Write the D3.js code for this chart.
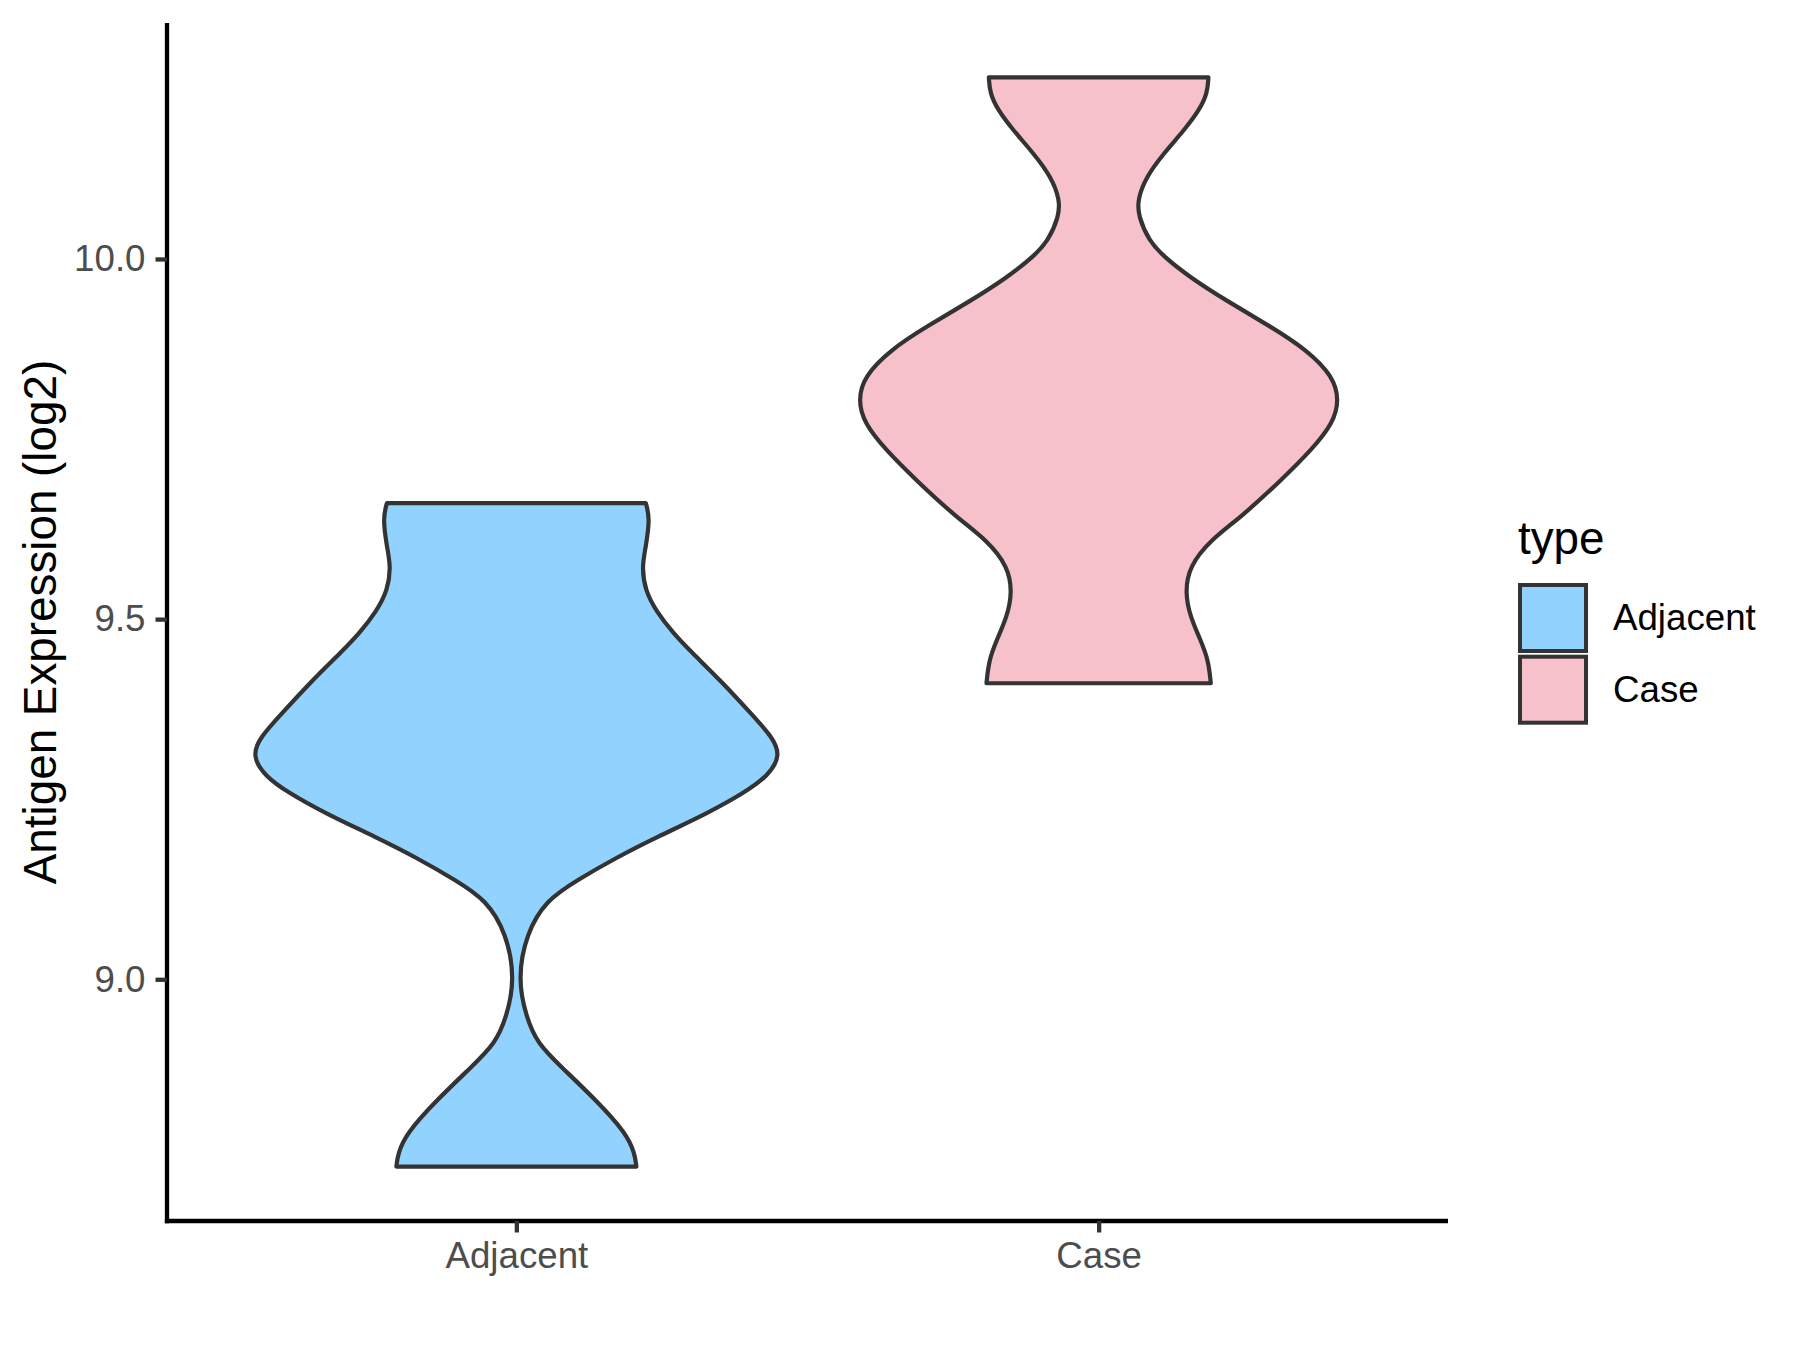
<!DOCTYPE html>
<html>
<head>
<meta charset="UTF-8">
<title>Antigen Expression violin</title>
<script src="https://cdn.jsdelivr.net/npm/d3@7"></script>
<style>
  body { margin: 0; background: #fff; }
  svg { display: block; font-family: "Liberation Sans", Arial, Helvetica, sans-serif; }
  .axis .domain { stroke: #000; stroke-width: 4.3px; }
  .axis .tick line { stroke: #333; stroke-width: 4.3px; }
  .axis .tick text { fill: #4d4d4d; font-size: 36.7px; }
  .violin { stroke: #333; stroke-width: 4.2px; stroke-linejoin: round; }
</style>
</head>
<body>
<div id="graphe"></div>
<script>
// groupes
var types = ["Adjacent", "Case"];
var colors = ["#92d2fe", "#f7c1cb"];

// profils : [valeur log2, densite relative]
var adjacentProfile = [
  [9.661, .494], [9.640, .510], [9.600, .494], [9.573, .479], [9.540, .491],
  [9.510, .535], [9.480, .600], [9.457, .660], [9.411, .790], [9.365, .905],
  [9.337, .975], [9.311, 1.01], [9.282, .960], [9.259, .870], [9.231, .733],
  [9.197, .534], [9.169, .382], [9.137, .229], [9.110, .115], [9.064, .038],
  [9.000, .005], [8.947, .038], [8.911, .080], [8.878, .172], [8.832, .305],
  [8.786, .420], [8.758, .452], [8.740, .458]
];
var caseProfile = [
  [10.252, .419], [10.230, .415], [10.207, .385], [10.179, .327], [10.147, .249],
  [10.114, .181], [10.082, .148], [10.059, .152], [10.026, .191], [10.003, .249],
  [9.975, .347], [9.943, .483], [9.906, .658], [9.874, .794], [9.837, .895],
  [9.804, .918], [9.772, .895], [9.735, .813], [9.693, .697], [9.642, .545],
  [9.610, .427], [9.573, .345], [9.536, .330], [9.503, .350], [9.471, .389],
  [9.443, .419], [9.411, .428]
];
var yTicks = [9.0, 9.5, 10.0];

var profiles = [adjacentProfile, caseProfile];

var width = 1800, height = 1350;
var plot = {left: 167, right: 1448, top: 23, bottom: 1221};

var svg = d3.select("#graphe").append("svg")
  .attr("width", width)
  .attr("height", height);

// echelles
var x = d3.scalePoint()
  .domain(types)
  .range([plot.left, plot.right])
  .padding(0.6);

var allValues = [];
profiles.forEach(function(p) { p.forEach(function(d) { allValues.push(d[0]); }); });
var ext = d3.extent(allValues), pad = (ext[1] - ext[0]) * 0.05;

var y = d3.scaleLinear()
  .domain([ext[0] - pad, ext[1] + pad])
  .range([plot.bottom, plot.top]);

var w = d3.scaleLinear()
  .domain([0, 1])
  .range([0, x.step() * 0.45]);

// violons
profiles.forEach(function(p, i) {
  var cx = x(types[i]);
  var area = d3.area()
    .y(function(d) { return y(d[0]); })
    .x0(function(d) { return cx - w(d[1]); })
    .x1(function(d) { return cx + w(d[1]); })
    .curve(d3.curveBasis);
  svg.append("path")
    .attr("class", "violin")
    .attr("d", area(p))
    .attr("fill", colors[i]);
});

// axes
svg.append("g")
  .attr("class", "axis")
  .attr("transform", "translate(" + plot.left + ",0)")
  .call(d3.axisLeft(y).tickValues(yTicks).tickFormat(d3.format(".1f"))
    .tickSize(11.5).tickSizeOuter(0).tickPadding(10))
  .select(".domain").attr("d", "M0," + plot.top + "V" + (plot.bottom + 2.15));

svg.append("g")
  .attr("class", "axis")
  .attr("transform", "translate(0," + plot.bottom + ")")
  .call(d3.axisBottom(x).tickSize(11.5).tickSizeOuter(0).tickPadding(9.5))
  .select(".domain").attr("d", "M" + (plot.left - 2.15) + ",0H" + plot.right);

// titre axe y
svg.append("text")
  .attr("transform", "translate(55.5," + ((plot.top + plot.bottom) / 2) + ") rotate(-90)")
  .attr("text-anchor", "middle")
  .style("font-size", "45.8px")
  .attr("fill", "#000")
  .text("Antigen Expression (log2)");

// legende
var legend = svg.append("g").attr("transform", "translate(1518,0)");
legend.append("text")
  .attr("x", 0).attr("y", 554)
  .style("font-size", "45.8px")
  .text("type");

var key = legend.selectAll(".key")
  .data(types)
  .enter().append("g")
  .attr("class", "key")
  .attr("transform", function(d, i) { return "translate(0," + (585 + i * 71.7) + ")"; });

key.append("rect")
  .attr("x", 2).attr("y", 0)
  .attr("width", 66).attr("height", 66)
  .attr("fill", function(d, i) { return colors[i]; })
  .attr("stroke", "#333")
  .attr("stroke-width", 4);

key.append("text")
  .attr("x", 95).attr("y", 45)
  .style("font-size", "36.7px")
  .text(function(d) { return d; });
</script>
</body>
</html>
